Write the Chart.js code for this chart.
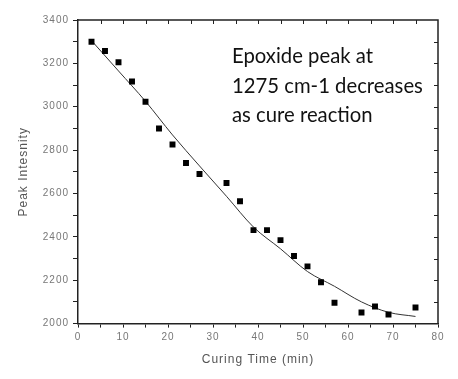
<!DOCTYPE html>
<html>
<head>
<meta charset="utf-8">
<script src="https://cdn.jsdelivr.net/npm/chart.js@4.4.1/dist/chart.umd.min.js"></script>
<style>
  html, body { margin: 0; padding: 0; background: #fff; }
  #wrap { width: 458px; height: 379px; }
</style>
</head>
<body>
<div id="wrap"><canvas id="myChart" width="458" height="379"></canvas></div>
<script>
    // measured points (squares)
    const curingTime = [3, 6, 9, 12, 15, 18, 21, 24, 27, 33, 36, 39, 42, 45, 48, 51, 54, 57, 63, 66, 69, 75];
    const peakIntensity = [3300, 3257, 3205, 3116, 3023, 2900, 2826, 2741, 2690, 2648, 2564, 2431, 2431, 2385, 2312, 2264, 2191, 2096, 2051, 2079, 2042, 2074];

    // fitted curve
    const fitTime = [3, 9, 15, 21, 27, 33, 39, 45, 51, 57, 63, 69, 75];
    const fitIntensity = [3305, 3165, 3025, 2870, 2727, 2587, 2445, 2345, 2240, 2172, 2100, 2052, 2033];

    const xTicks = { min: 0, max: 80, major: 10, minor: 5 };
    const yTicks = { min: 2000, max: 3400, major: 200, minor: 100 };

    const noteLines = ['Epoxide peak at', '1275 cm-1 decreases', 'as cure reaction'];

    const toPoints = (xs, ys) => xs.map((x, i) => ({ x: x, y: ys[i] }));

    const axisColor = '#222';
    const labelColor = '#777';

    // spaced out text, like the original export
    const spacing = {
        id: 'spacing',
        beforeDraw(chart) {
            chart.ctx.letterSpacing = '1px';
        }
    };

    // top / right frame with inward ticks + the note text
    const frame = {
        id: 'frame',
        afterDraw(chart) {
            const ctx = chart.ctx;
            const a = chart.chartArea;
            const xs = chart.scales.x;
            const ys = chart.scales.y;
            ctx.save();
            ctx.strokeStyle = axisColor;
            ctx.lineWidth = 1.5;
            ctx.beginPath();
            ctx.moveTo(a.left, a.top);
            ctx.lineTo(a.right, a.top);
            ctx.lineTo(a.right, a.bottom);
            ctx.stroke();
            ctx.lineWidth = 1;
            ctx.beginPath();
            for (let v = xTicks.min + xTicks.minor; v < xTicks.max; v += xTicks.minor) {
                const px = Math.round(xs.getPixelForValue(v)) + 0.5;
                ctx.moveTo(px, a.top);
                ctx.lineTo(px, a.top + 4);
            }
            for (let v = yTicks.min + yTicks.minor; v < yTicks.max; v += yTicks.minor) {
                const py = Math.round(ys.getPixelForValue(v)) + 0.5;
                ctx.moveTo(a.right, py);
                ctx.lineTo(a.right - 4, py);
            }
            ctx.stroke();

            ctx.letterSpacing = '0px';
            ctx.fillStyle = '#111';
            ctx.font = '20.3px Lato';
            ctx.textBaseline = 'alphabetic';
            for (let i = 0; i < noteLines.length; i++) {
                ctx.fillText(noteLines[i], a.left + 154, a.top + 43 + i * 29.5);
            }
            ctx.restore();
        }
    };

    const ctx = document.getElementById('myChart').getContext('2d');
    const myChart = new Chart(ctx, {
        type: 'scatter',
        data: {
            datasets: [{
                label: 'Peak',
                data: toPoints(curingTime, peakIntensity),
                pointStyle: 'rect',
                pointRadius: 4.2,
                backgroundColor: '#000',
                borderColor: '#000',
                borderWidth: 0,
                showLine: false
            }, {
                label: 'Fit',
                data: toPoints(fitTime, fitIntensity),
                showLine: true,
                pointRadius: 0,
                borderColor: '#333',
                borderWidth: 1,
                cubicInterpolationMode: 'monotone',
                fill: false
            }]
        },
        options: {
            responsive: false,
            animation: false,
            layout: { padding: { left: 16, right: 20, top: 20, bottom: 12 } },
            plugins: {
                legend: { display: false },
                tooltip: { enabled: false }
            },
            scales: {
                x: {
                    type: 'linear',
                    min: xTicks.min,
                    max: xTicks.max,
                    border: { color: axisColor, width: 1.5 },
                    grid: { drawOnChartArea: false, tickLength: 4, color: axisColor },
                    ticks: {
                        stepSize: xTicks.minor,
                        padding: 4,
                        color: labelColor,
                        font: { family: 'Arial, "Liberation Sans"', size: 10 },
                        maxRotation: 0,
                        autoSkip: false,
                        callback: v => (v % xTicks.major === 0 ? v : '')
                    },
                    title: {
                        display: true,
                        text: 'Curing Time (min)',
                        color: '#555',
                        font: { family: 'Arial, "Liberation Sans"', size: 12 },
                        padding: { top: 5, bottom: 0 }
                    }
                },
                y: {
                    type: 'linear',
                    min: yTicks.min,
                    max: yTicks.max,
                    border: { color: axisColor, width: 1.5 },
                    grid: { drawOnChartArea: false, tickLength: 5, color: axisColor },
                    ticks: {
                        stepSize: yTicks.minor,
                        padding: 4,
                        color: labelColor,
                        font: { family: 'Arial, "Liberation Sans"', size: 10 },
                        autoSkip: false,
                        callback: v => (v % yTicks.major === 0 ? v : '')
                    },
                    title: {
                        display: true,
                        text: 'Peak Intesnity',
                        color: '#555',
                        font: { family: 'Arial, "Liberation Sans"', size: 12 },
                        padding: { top: 0, bottom: 4 }
                    },
                    afterFit: scale => { scale.width = 62; }
                }
            }
        },
        plugins: [spacing, frame]
    });
</script>
</body>
</html>
